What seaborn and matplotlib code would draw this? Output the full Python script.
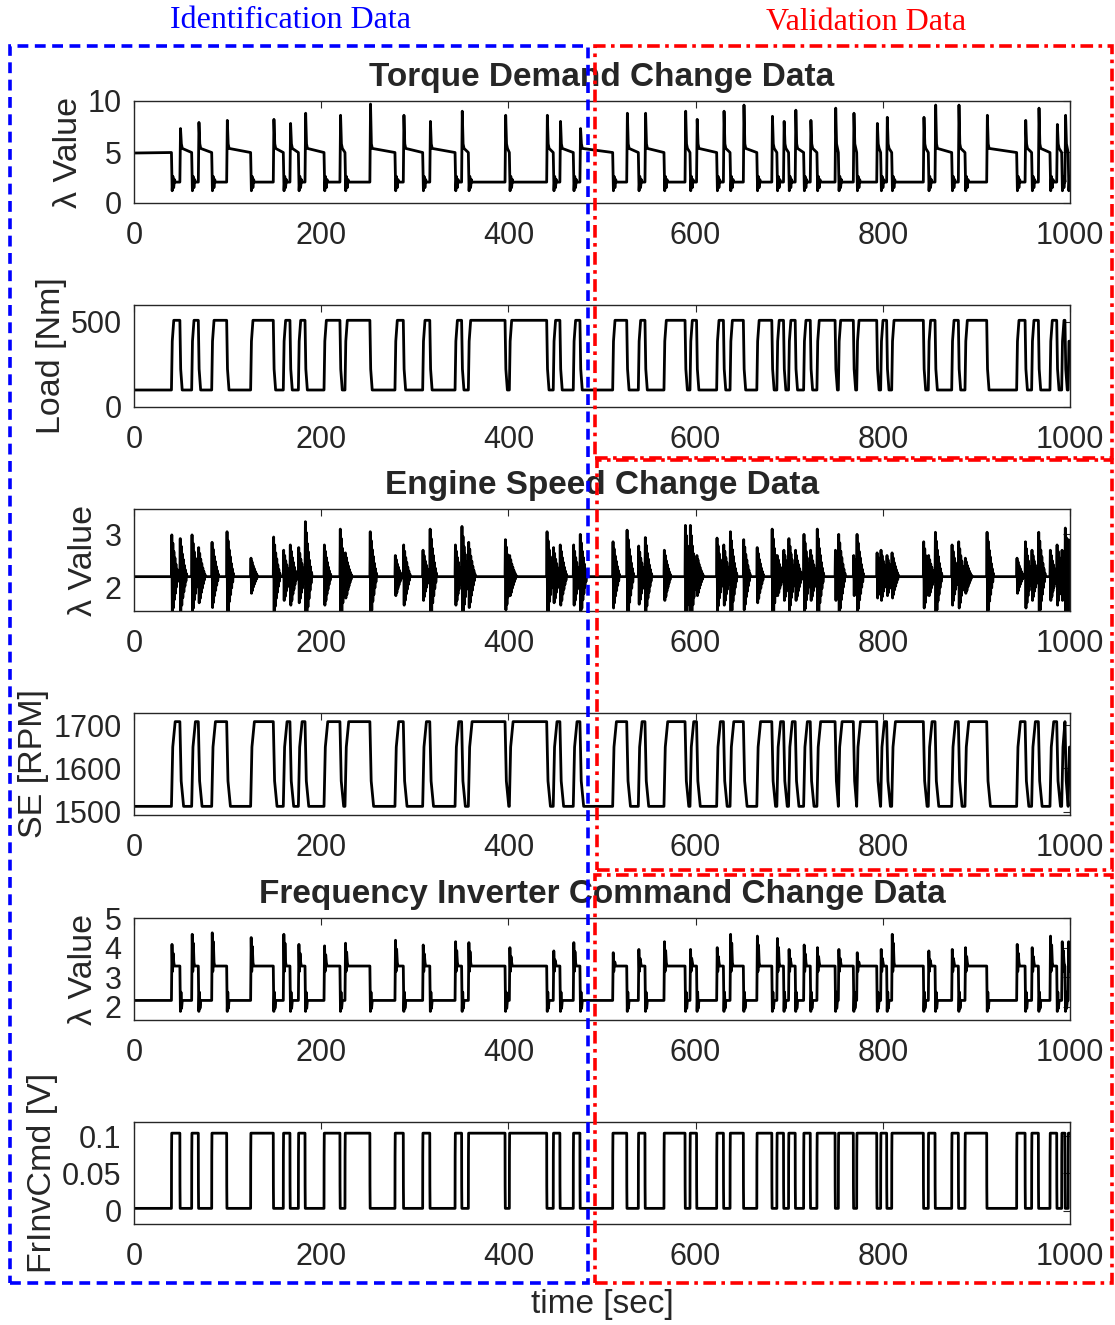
import matplotlib
matplotlib.use("Agg")
import numpy as np
import pandas as pd
import matplotlib.pyplot as plt
import seaborn as sns
from matplotlib.patches import Rectangle

# ============================
# ========== DATA ============
# ============================

# switching instants of the excitation signal [sec] (even index -> high, odd -> low)
switch_times = [40, 49, 61.6, 68.7, 83, 99, 124.6, 148.8, 159.5, 166.6,
                175.6, 182.7, 203, 220, 225.4, 252, 278.8, 287.7, 308.4, 316,
                343, 350, 357.2, 396.4, 401, 440.9, 447.9, 455, 469.3, 476.4,
                511.4, 526.4, 538.8, 545.9, 566.2, 588.7, 594, 601, 622.5, 629.7,
                636.8, 651, 665.4, 681.4, 686.8, 693.9, 699.3, 706.4, 715.4, 722.5,
                729.6, 749, 752.5, 768.5, 772.1, 793.5, 797.7, 804.1, 809.5, 843.3,
                848.6, 855.8, 873.6, 880.7, 887.8, 911, 943, 952, 959, 966.2,
                978.6, 985.8, 991.1, 994.6, 998]

# lambda overshoot at each torque drop (one per falling edge)
torque_lambda_peaks = [7.3, 7.9, 8.1, 8.2, 7.8, 8.8, 8.6, 9.7, 8.6, 8.0, 9.0, 8.6, 8.6, 8.0, 7.3,
                       8.8, 8.8, 9.0, 8.2, 9.0, 9.6, 8.5, 8.0, 9.1, 8.1, 9.3, 8.8, 7.8, 8.4,
                       8.4, 9.6, 9.6, 8.6, 8.1, 9.3, 7.7, 8.6]

# lambda burst maxima at each engine speed change (one per edge)
speed_lambda_peaks = [2.99, 2.92, 2.99, 2.75, 2.85, 3.05, 2.55, 2.95, 2.7, 2.8,
                      2.75, 3.24, 2.8, 3.1, 2.65, 3.05, 2.6, 2.8, 2.7, 3.1,
                      2.8, 3.15, 2.85, 2.9, 2.6, 3.05, 2.75, 2.8, 2.8, 3.0,
                      2.86, 3.08, 2.78, 2.94, 2.7, 3.17, 3.17, 2.6, 2.93, 2.8,
                      3.05, 2.9, 2.75, 3.1, 2.6, 2.7, 2.92, 2.7, 3.0, 2.7,
                      3.1, 2.7, 3.0, 2.6, 3.0, 2.65, 2.7, 2.6, 2.65, 2.86,
                      2.6, 3.04, 2.8, 2.86, 2.55, 3.04, 2.55, 2.86, 2.7, 3.04,
                      2.7, 2.8, 2.7, 3.12, 2.9]

# lambda overshoot at each inverter command rise (one per rising edge)
inverter_lambda_peaks = [4.11, 4.45, 4.5, 4.34, 4.45, 4.11, 4.06, 4.15, 4.25, 4.09,
                         4.2, 4.17, 4.0, 3.89, 4.17,
                         3.83, 3.94, 4.2, 3.94, 4.0, 4.45, 4.39, 4.31, 3.94, 4.09,
                         4.0, 3.94, 3.83, 3.94, 4.45, 3.89, 3.94, 4.0, 4.11, 4.0,
                         4.39, 4.2, 4.2]

load_levels = [100, 510]          # Nm
speed_levels = [1512, 1708]       # RPM
command_levels = [0.003, 0.104]   # V
torque_lambda_levels = [4.9, 2.05]
speed_lambda_level = 2.2
inverter_lambda_levels = [2.22, 3.38]

T_END = 1000

# ============================
# ===== HELPER FUNCTIONS =====
# ============================


def build_trace(start, shapes):
    """
    Chain the per-edge shapes (offsets, values) into one polyline.
    """
    xs, ys = [0.0], [start]
    for i, t in enumerate(switch_times):
        t_next = switch_times[i + 1] if i + 1 < len(switch_times) else T_END
        offsets, values = shapes[i]
        for o, v in zip(offsets, values):
            if t + o < t_next:
                xs.append(t + o)
                ys.append(v)
    xs.append(T_END)
    ys.append(ys[-1])
    return pd.DataFrame({"t": xs, "v": ys})


def square_shapes(levels, ramp):
    shapes = []
    for i in range(len(switch_times)):
        old, new = (levels[0], levels[1]) if i % 2 == 0 else (levels[1], levels[0])
        shapes.append(([0, ramp * 0.35, ramp], [old, old + 0.7 * (new - old), new]))
    return shapes


def torque_lambda_shapes():
    shapes, k = [], 0
    lo, hi = torque_lambda_levels
    for i in range(len(switch_times)):
        if i % 2 == 0:
            shapes.append(([0, 0.8, 1.6, 2.4, 3.2, 4.0],
                           [4.95, 1.2, 2.6, 1.5, 2.3, hi]))
        else:
            p = torque_lambda_peaks[k]
            k += 1
            shapes.append(([0, 0.7, 1.6, 2.6], [hi, p, 5.8, 5.35]))
    return shapes


def speed_lambda_shapes():
    ring = [1, -0.9, 0.8, -0.75, 0.6, -0.55, 0.45, -0.4, 0.3, -0.25, 0.18, -0.12, 0.08]
    base = speed_lambda_level
    shapes = []
    for i, p in enumerate(speed_lambda_peaks):
        a = p - base
        offs = [0] + [0.4 + 0.55 * j for j in range(len(ring))] + [0.4 + 0.55 * len(ring)]
        vals = [base] + [base + a * r for r in ring] + [base]
        shapes.append((offs, vals))
    return shapes


def inverter_lambda_shapes():
    shapes, k = [], 0
    lo, hi = inverter_lambda_levels
    for i in range(len(switch_times)):
        if i % 2 == 0:
            p = inverter_lambda_peaks[k]
            k += 1
            shapes.append(([0, 0.6, 1.2, 1.8, 2.5, 3.2],
                           [lo, p, 3.2, p - 0.3, 3.5, hi]))
        else:
            shapes.append(([0, 0.6, 1.2, 1.8, 2.6],
                           [hi, 1.85, 2.5, 1.95, lo]))
    return shapes


# ============================
# ====== MAIN EXECUTION ======
# ============================

sns.set_style("white")
plt.rcParams["font.family"] = ["Liberation Sans", "DejaVu Sans"]

W, H = 1115, 1325
fig = plt.figure(figsize=(W / 100, H / 100), dpi=100)

panel_tops = [101, 305, 509, 713, 918, 1122]
traces = [
    build_trace(torque_lambda_levels[0], torque_lambda_shapes()),
    build_trace(load_levels[0], square_shapes(load_levels, 2.5)),
    build_trace(speed_lambda_level, speed_lambda_shapes()),
    build_trace(speed_levels[0], square_shapes(speed_levels, 4.0)),
    build_trace(inverter_lambda_levels[0], inverter_lambda_shapes()),
    build_trace(command_levels[0], square_shapes(command_levels, 0.3)),
]
ylims = [(0, 10), (0, 600), (1.55, 3.48), (1492, 1728), (1.56, 4.98), (-0.018, 0.119)]
yticks = [[0, 5, 10], [0, 500], [2, 3], [1500, 1600, 1700], [2, 3, 4, 5], [0, 0.05, 0.1]]
yticklabels = [None, None, None, None, None, ["0", "0.05", "0.1"]]
ylabels = ["λ Value", "Load [Nm]", "λ Value", "SE [RPM]", "λ Value", "FrInvCmd [V]"]
ylabel_x = [-0.053, -0.072, -0.037, -0.091, -0.037, -0.081]
titles = ["Torque Demand Change Data", None, "Engine Speed Change Data", None,
          "Frequency Inverter Command Change Data", None]

for i, top in enumerate(panel_tops):
    ax = fig.add_axes([134 / W, 1 - (top + 102) / H, 936 / W, 102 / H])
    sns.lineplot(data=traces[i], x="t", y="v", ax=ax, color="black",
                 linewidth=2.0, sort=False, estimator=None)
    ax.set_xlim(0, 1000)
    ax.set_ylim(*ylims[i])
    ax.set_xticks(range(0, 1001, 200))
    ax.set_yticks(yticks[i])
    if yticklabels[i]:
        ax.set_yticklabels(yticklabels[i])
    ax.tick_params(direction="in", length=5, width=0.8, labelsize=22, pad=9,
                   top=True, right=True, colors="#262626")
    ax.tick_params(axis="x", pad=13)
    for s in ax.spines.values():
        s.set_color("#262626")
        s.set_linewidth(1.0)
    ax.set_xlabel("")
    ax.set_ylabel(ylabels[i], fontsize=24.5, color="#262626")
    ax.yaxis.set_label_coords(ylabel_x[i], 0.5)
    if titles[i]:
        ax.set_title(titles[i], fontsize=24, fontweight="bold", pad=11)
    if i == 5:
        ax.set_xlabel("time [sec]", fontsize=24, color="#262626", labelpad=12)

# Identification / validation framing
blue_box = Rectangle((10 / W, 1 - 1283 / H), 578 / W, 1237 / H, transform=fig.transFigure,
                     fill=False, edgecolor="#0000ff", linewidth=2.6,
                     linestyle=(0, (3, 1.8)), zorder=10)
fig.add_artist(blue_box)
red_boxes = [(595, 46, 1112, 458), (597, 460, 1112, 870), (595, 875, 1112, 1283)]
for x0, y0, x1, y1 in red_boxes:
    fig.add_artist(Rectangle((x0 / W, 1 - y1 / H), (x1 - x0) / W, (y1 - y0) / H,
                             transform=fig.transFigure, fill=False, edgecolor="#ff0000",
                             linewidth=2.6, linestyle=(0, (3.5, 1.5, 1, 1.5)), zorder=10))

fig.text(291 / W, 1 - 21 / H, "Identification Data", color="#0000ff", fontsize=23,
         family=["Liberation Serif", "DejaVu Serif"], ha="center", va="center")
fig.text(866 / W, 1 - 22 / H, "Validation Data", color="#ff0000", fontsize=23,
         family=["Liberation Serif", "DejaVu Serif"], ha="center", va="center")

fig.savefig("out.png", dpi=100)
